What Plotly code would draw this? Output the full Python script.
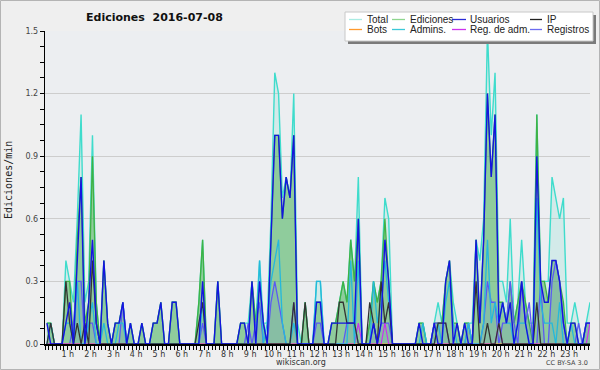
import plotly.graph_objects as go

# ---------------- data (10-minute buckets, edits per minute) ----------------
minutes = list(range(5, 1440, 10))          # bucket centres, minutes after 00:00
tick_hours = list(range(1, 24))
tick_labels = [f"{h} h" for h in tick_hours]
y_ticks = [0.0, 0.3, 0.6, 0.9, 1.2, 1.5]

total = [
    0.1, 0.1, 0, 0, 0, 0.4,
    0.3, 0.2, 0.6, 1.1, 0.2, 0.3,
    1.0, 0.2, 0, 0.4, 0.1, 0,
    0.1, 0.1, 0.2, 0, 0.1, 0,
    0, 0.1, 0, 0, 0.1, 0.1,
    0.2, 0, 0, 0.2, 0.2, 0,
    0, 0, 0, 0, 0.2, 0.5,
    0, 0, 0, 0.3, 0, 0,
    0, 0, 0, 0.1, 0.1, 0.1,
    0.3, 0.1, 0.4, 0.1, 0.1, 0.6,
    1.3, 1.2, 0.7, 0.8, 0.7, 1.2,
    0.1, 0, 0.2, 0, 0, 0.3,
    0.3, 0, 0, 0.1, 0.1, 0.2,
    0.3, 0.2, 0.5, 0.3, 0.8, 0,
    0, 0.1, 0.3, 0.2, 0.3, 0.7,
    0.6, 0, 0, 0, 0, 0,
    0, 0, 0.1, 0.1, 0, 0,
    0.1, 0.2, 0.1, 0.3, 0.4, 0.2,
    0.1, 0, 0.1, 0.1, 0.1, 0.5,
    0.4, 0.6, 1.5, 1.0, 1.3, 0.3,
    0.3, 0.2, 0.6, 0.1, 0.2, 0.5,
    0.2, 0.1, 0.1, 1.1, 0.3, 0.3,
    0.3, 0.8, 0.7, 0.6, 0.7, 0.1,
    0.1, 0.2, 0.1, 0, 0.1, 0.2,
]

ediciones = [
    0.1, 0.1, 0, 0, 0, 0.3,
    0.3, 0, 0.5, 0.8, 0.1, 0.2,
    0.9, 0.2, 0, 0.4, 0.1, 0,
    0.1, 0.1, 0.2, 0, 0.1, 0,
    0, 0.1, 0, 0, 0.1, 0.1,
    0.2, 0, 0, 0.2, 0.2, 0,
    0, 0, 0, 0, 0.2, 0.5,
    0, 0, 0, 0.3, 0, 0,
    0, 0, 0, 0.1, 0.1, 0,
    0.3, 0.1, 0.3, 0.1, 0, 0.5,
    1.0, 1.0, 0.6, 0.8, 0.7, 1.0,
    0, 0, 0.2, 0, 0, 0.2,
    0.2, 0, 0, 0.1, 0.1, 0.2,
    0.3, 0.2, 0.5, 0.3, 0.6, 0,
    0, 0.1, 0.3, 0.2, 0.3, 0.6,
    0.3, 0, 0, 0, 0, 0,
    0, 0, 0.1, 0.1, 0, 0,
    0.1, 0.1, 0.1, 0.3, 0.4, 0.1,
    0.1, 0, 0.1, 0.1, 0, 0.5,
    0.1, 0.5, 1.2, 0.8, 1.1, 0.2,
    0.2, 0.1, 0.3, 0.1, 0.2, 0.3,
    0.2, 0.1, 0, 1.1, 0.3, 0.3,
    0.2, 0.4, 0.4, 0.3, 0.2, 0,
    0.1, 0.1, 0, 0, 0.1, 0.1,
]

usuarios = [
    0.1, 0, 0, 0, 0, 0.1,
    0.2, 0, 0.4, 0.8, 0, 0.2,
    0.5, 0.1, 0, 0.4, 0.1, 0,
    0.1, 0.1, 0.2, 0, 0.1, 0,
    0, 0.1, 0, 0, 0.1, 0.1,
    0.2, 0, 0, 0.2, 0.2, 0,
    0, 0, 0, 0, 0, 0.3,
    0, 0, 0, 0.3, 0, 0,
    0, 0, 0, 0.1, 0.1, 0,
    0.3, 0, 0.3, 0.1, 0, 0.5,
    1.0, 1.0, 0.6, 0.8, 0.7, 1.0,
    0, 0, 0, 0, 0, 0.2,
    0.2, 0, 0, 0.1, 0.1, 0.1,
    0.1, 0.1, 0.1, 0.1, 0.6, 0,
    0, 0, 0.1, 0, 0.1, 0.5,
    0.3, 0, 0, 0, 0, 0,
    0, 0, 0.1, 0, 0, 0,
    0.1, 0, 0, 0.3, 0.4, 0,
    0.1, 0, 0.1, 0, 0, 0.5,
    0.1, 0.5, 1.2, 0.8, 1.1, 0.1,
    0.2, 0.1, 0.2, 0, 0.1, 0.3,
    0.1, 0, 0, 0.9, 0.3, 0.2,
    0.2, 0.4, 0.4, 0.3, 0.1, 0,
    0.1, 0.1, 0, 0, 0.1, 0.1,
]

ip = [
    0, 0.1, 0, 0, 0, 0.3,
    0.1, 0, 0.1, 0, 0.1, 0,
    0.4, 0.1, 0, 0, 0, 0,
    0, 0, 0, 0, 0, 0,
    0, 0, 0, 0, 0, 0,
    0, 0, 0, 0, 0, 0,
    0, 0, 0, 0, 0.1, 0.2,
    0, 0, 0, 0, 0, 0,
    0, 0, 0, 0, 0, 0,
    0, 0, 0, 0, 0, 0,
    0, 0, 0, 0, 0, 0.2,
    0, 0, 0.2, 0, 0, 0,
    0, 0, 0, 0, 0, 0.2,
    0.2, 0.1, 0.1, 0.1, 0, 0,
    0, 0.2, 0.1, 0, 0.3, 0.1,
    0.2, 0, 0, 0, 0, 0,
    0, 0, 0, 0, 0, 0,
    0, 0.1, 0.1, 0.1, 0, 0,
    0, 0, 0, 0, 0, 0.3,
    0, 0, 0.1, 0, 0, 0.1,
    0, 0, 0, 0, 0, 0,
    0, 0, 0, 0.2, 0, 0,
    0, 0, 0, 0, 0, 0,
    0, 0, 0, 0, 0, 0,
]

bots = [0] * 144

admins = [
    0, 0.1, 0, 0, 0, 0.1,
    0.1, 0, 0.3, 0, 0, 0.1,
    0.2, 0, 0, 0.1, 0, 0,
    0, 0.1, 0.1, 0, 0, 0,
    0, 0, 0, 0, 0, 0,
    0, 0, 0, 0, 0, 0,
    0, 0, 0, 0, 0, 0.2,
    0, 0, 0, 0, 0, 0,
    0, 0, 0, 0, 0, 0,
    0, 0, 0.4, 0, 0.1, 0.3,
    0.4, 0.5, 0.1, 0, 0, 0.1,
    0, 0, 0, 0, 0, 0.3,
    0.3, 0, 0, 0, 0, 0,
    0, 0, 0.4, 0, 0.4, 0,
    0, 0, 0.3, 0.1, 0.2, 0.4,
    0.2, 0, 0, 0, 0, 0,
    0, 0, 0, 0.1, 0, 0,
    0, 0.1, 0, 0.2, 0.3, 0.1,
    0, 0, 0, 0.1, 0, 0,
    0, 0.1, 0.5, 0.1, 0.2, 0.1,
    0.2, 0.1, 0.1, 0, 0.1, 0.1,
    0.1, 0, 0, 0.7, 0.2, 0.1,
    0.1, 0.1, 0, 0.2, 0, 0,
    0.1, 0, 0, 0, 0, 0,
]

reg_adm = [0] * 144
for _i, _v in [(82, 0.1), (89, 0.1), (119, 0.1), (143, 0.1)]:
    reg_adm[_i] = _v

registros = [
    0, 0, 0, 0, 0, 0,
    0, 0.1, 0.3, 0.3, 0, 0.1,
    0.1, 0, 0, 0, 0, 0,
    0, 0, 0.2, 0, 0, 0,
    0, 0, 0, 0, 0, 0,
    0, 0, 0, 0, 0, 0,
    0, 0, 0, 0, 0, 0.1,
    0, 0, 0, 0, 0, 0,
    0, 0, 0, 0, 0, 0.1,
    0, 0.1, 0.2, 0, 0, 0.2,
    0.3, 0.2, 0.1, 0, 0, 0.2,
    0, 0, 0, 0, 0, 0.1,
    0.1, 0, 0, 0, 0, 0,
    0, 0.1, 0.1, 0.1, 0, 0,
    0, 0, 0.1, 0, 0.1, 0.1,
    0.1, 0, 0, 0, 0, 0,
    0, 0, 0, 0, 0, 0,
    0.1, 0.1, 0.1, 0.1, 0, 0,
    0, 0, 0, 0.1, 0, 0,
    0, 0.1, 0.3, 0.2, 0.2, 0,
    0.1, 0.1, 0.3, 0.1, 0, 0.3,
    0.1, 0.2, 0, 0, 0.3, 0,
    0, 0.3, 0.4, 0.3, 0.1, 0,
    0, 0, 0.1, 0, 0.1, 0.1,
]

# ---------------- figure ----------------
W, H = 600, 370
ML, MR, MT, MB = 45, 10, 31, 26
PW, PH = W - ML - MR, H - MT - MB
FONT = "DejaVu Sans"
LEG_FONT = "Liberation Sans"

def px(x):
    return (x - ML) / PW

def py(y):
    return (H - MB - y) / PH

hours_x = [m / 60 for m in minutes]

fig = go.Figure()

def add(name, ys, color, width=1.3, fill=None, fillcolor=None):
    fig.add_trace(go.Scatter(
        x=hours_x, y=ys, name=name, mode="lines",
        line=dict(color=color, width=width),
        fill=fill, fillcolor=fillcolor, showlegend=False,
        hoverinfo="x+y+name"))

add("Total", total, "#3fdccc", 1.4, "tozeroy", "rgba(90,215,195,0.17)")
add("Ediciones", ediciones, "#3fb244", 1.3, "tozeroy", "rgba(60,168,62,0.45)")
add("Registros", registros, "#5b5bf2", 1.3, "tozeroy", "rgba(70,70,235,0.10)")
add("Bots", bots, "#ff9a2e", 1.2)
add("Reg. de adm.", reg_adm, "#c833ee", 1.2)
add("Admins.", admins, "#25b8dc", 1.3)
add("IP", ip, "#333333", 1.3)
add("Usuarios", usuarios, "#1414e0", 1.4)

shapes = []
annotations = []

# figure border
shapes.append(dict(type="rect", xref="paper", yref="paper",
                   x0=px(0.5), x1=px(W - 0.5), y0=py(H - 0.5), y1=py(0.5),
                   line=dict(color="#b4b4b4", width=1), layer="below"))

# legend box with shadow
shapes.append(dict(type="rect", xref="paper", yref="paper",
                   x0=px(348), x1=px(596), y0=py(44), y1=py(15),
                   fillcolor="#7a7a7a", line=dict(width=0), layer="above"))
shapes.append(dict(type="rect", xref="paper", yref="paper",
                   x0=px(345), x1=px(593), y0=py(41), y1=py(12),
                   fillcolor="#ffffff", line=dict(color="#c8c8c8", width=1), layer="above"))

legend_items = [
    ("Total", "#a9ece3", 0, 0), ("Ediciones", "#8fd68f", 0, 1),
    ("Usuarios", "#2b2bd6", 0, 2), ("IP", "#222222", 0, 3),
    ("Bots", "#ff9a2e", 1, 0), ("Admins.", "#3cc8d8", 1, 1),
    ("Reg. de adm.", "#cc33ee", 1, 2), ("Registros", "#6c6cf0", 1, 3),
]
col_line = [(349, 362), (392, 405), (452, 466), (530, 542)]
col_text = [365, 408, 468, 545]
row_y = [19.5, 29.5]
for label, col, r, c in legend_items:
    x0, x1 = col_line[c]
    shapes.append(dict(type="line", xref="paper", yref="paper",
                       x0=px(x0), x1=px(x1), y0=py(row_y[r]), y1=py(row_y[r]),
                       line=dict(color=col, width=1.3), layer="above"))
    annotations.append(dict(text=label, xref="paper", yref="paper",
                            x=px(col_text[c]), y=py(row_y[r]),
                            xanchor="left", yanchor="middle", showarrow=False,
                            font=dict(family=LEG_FONT, size=10, color="#222222")))

# title, axis title, footer texts
annotations.append(dict(text="<b>Ediciones\u00a0 2016-07-08</b>", xref="paper", yref="paper",
                        x=px(154), y=py(17), xanchor="center", yanchor="middle",
                        showarrow=False, font=dict(family=FONT, size=11, color="#111111")))
annotations.append(dict(text="Ediciones/min", xref="paper", yref="paper",
                        x=px(8), y=py(180), xanchor="center", yanchor="middle",
                        textangle=-90, showarrow=False,
                        font=dict(family="DejaVu Sans Mono", size=10, color="#222222")))
annotations.append(dict(text="wikiscan.org", xref="paper", yref="paper",
                        x=px(301), y=py(362), xanchor="center", yanchor="middle",
                        showarrow=False, font=dict(family=FONT, size=8, color="#333333")))
annotations.append(dict(text="CC BY-SA 3.0", xref="paper", yref="paper",
                        x=px(590), y=py(363), xanchor="right", yanchor="middle",
                        showarrow=False, font=dict(family=FONT, size=6.5, color="#444444")))

fig.update_layout(
    width=W, height=H,
    margin=dict(l=ML, r=MR, t=MT, b=MB, pad=0),
    paper_bgcolor="#efefef",
    plot_bgcolor="#eceef1",
    showlegend=False,
    shapes=shapes,
    annotations=annotations,
    font=dict(family=FONT, size=8, color="#333333"),
    xaxis=dict(
        range=[0, minutes[-1] / 60], tickmode="array",
        tickvals=tick_hours, ticktext=tick_labels,
        ticks="outside", ticklen=4, tickwidth=1, tickcolor="#000000",
        ticklabelstandoff=-2,
        showline=True, linecolor="#000000", linewidth=1.6,
        showgrid=False, zeroline=False, fixedrange=True,
        tickfont=dict(family=FONT, size=8, color="#333333"),
        minor=dict(dtick=1 / 6, tick0=0, ticks="outside", ticklen=4,
                   tickcolor="#000000", tickwidth=1, showgrid=False),
    ),
    yaxis=dict(
        range=[0, 1.5], tickmode="array", tickvals=y_ticks,
        ticktext=[f"{v:.1f}" for v in y_ticks],
        ticks="outside", ticklen=4, tickwidth=1, tickcolor="#000000",
        showline=True, linecolor="#000000", linewidth=1.4,
        showgrid=True, gridcolor="#cdcdcd", gridwidth=1,
        zeroline=False, fixedrange=True,
        tickfont=dict(family=FONT, size=8, color="#444444"),
        minor=dict(dtick=0.075, tick0=0, ticks="outside", ticklen=4,
                   tickcolor="#000000", tickwidth=1, showgrid=False),
    ),
)

fig.write_html("out.html", config={"displayModeBar": False},
               post_script="document.body.style.margin='0';document.body.style.padding='0';")
